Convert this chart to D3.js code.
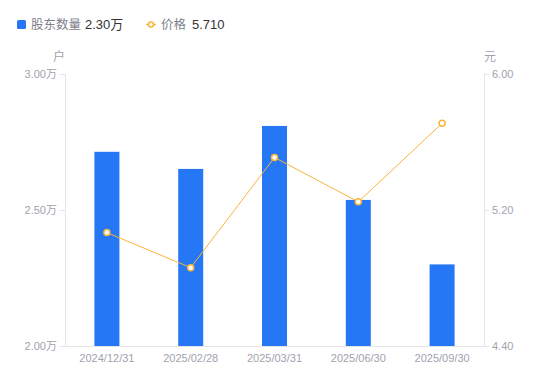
<!DOCTYPE html>
<html><head><meta charset="utf-8">
<script src="https://cdn.jsdelivr.net/npm/d3@7/dist/d3.min.js"></script>
<style>body{margin:0;background:#fff;font-family:"Noto Sans CJK SC","Noto Sans",sans-serif;}</style>
</head><body><svg id="c" width="550" height="381"></svg>
<script>
const categories = ["2024/12/31","2025/02/28","2025/03/31","2025/06/30","2025/09/30"];
const holders = [2.714, 2.651, 2.809, 2.537, 2.30];
const prices = [5.067, 4.861, 5.509, 5.248, 5.710];
const leftTicks = [2.00, 2.50, 3.00];
const rightTicks = [4.40, 5.20, 6.00];

const svg = d3.select("#c");
const L = 65, R = 484, T = 74, B = 346;
const x = d3.scaleBand().domain(categories).range([L, R]);
const yL = d3.scaleLinear().domain([2, 3]).range([B, T]);
const yR = d3.scaleLinear().domain([4.4, 6.0]).range([B, T]);
const axisColor = "#e3e4e8", textColor = "#a0a3ad";
const latin = '"Liberation Sans",Arial,"Noto Sans CJK SC",sans-serif';

// axes
const gL = svg.append("g").attr("transform", `translate(${L},0)`)
  .call(d3.axisLeft(yL).tickValues(leftTicks).tickSize(5).tickPadding(3).tickFormat(d => d3.format(".2f")(d) + "万"));
const gR = svg.append("g").attr("transform", `translate(${R},0)`)
  .call(d3.axisRight(yR).tickValues(rightTicks).tickSize(5).tickPadding(3).tickFormat(d3.format(".2f")));
const gB = svg.append("g").attr("transform", `translate(0,${B})`)
  .call(d3.axisBottom(x).tickSize(0).tickPadding(8));
[gL, gR, gB].forEach(g => {
  g.selectAll("path,line").attr("stroke", axisColor);
  g.selectAll("text").attr("fill", textColor).attr("font-size", 11).attr("font-family", latin);
});

// unit labels
svg.append("text").attr("x", 59).attr("y", 61).attr("text-anchor", "middle")
  .attr("font-size", 12).attr("fill", textColor).text("户");
svg.append("text").attr("x", 490).attr("y", 61).attr("text-anchor", "middle")
  .attr("font-size", 12).attr("fill", textColor).text("元");

// bars
const bw = 25;
svg.append("g").selectAll("rect").data(holders).join("rect")
  .attr("x", (d, i) => x(categories[i]) + x.bandwidth() / 2 - bw / 2)
  .attr("y", d => yL(d))
  .attr("width", bw)
  .attr("height", d => B - yL(d))
  .attr("fill", "#2677f5");

// line
const lineColor = "#f9b43a";
const line = d3.line().x((d, i) => x(categories[i]) + x.bandwidth() / 2).y(d => yR(d));
svg.append("path").datum(prices).attr("d", line).attr("fill", "none")
  .attr("stroke", lineColor).attr("stroke-width", 1);
svg.append("g").selectAll("circle").data(prices).join("circle")
  .attr("cx", (d, i) => x(categories[i]) + x.bandwidth() / 2)
  .attr("cy", d => yR(d)).attr("r", 3)
  .attr("fill", "#fff").attr("stroke", lineColor).attr("stroke-width", 1.5);

// legend
const lg = svg.append("g");
lg.append("rect").attr("x", 17).attr("y", 20).attr("width", 9).attr("height", 9).attr("rx", 1.5).attr("fill", "#2677f5");
lg.append("text").attr("x", 31).attr("y", 29).attr("font-size", 12.5).attr("fill", "#7d808a").text("股东数量");
lg.append("text").attr("x", 85).attr("y", 29).attr("font-size", 13).attr("font-family", latin).attr("fill", "#333").text("2.30万");
lg.append("line").attr("x1", 146).attr("x2", 156).attr("y1", 24.5).attr("y2", 24.5).attr("stroke", lineColor).attr("stroke-width", 1.5);
lg.append("circle").attr("cx", 151).attr("cy", 24.5).attr("r", 2.5).attr("fill", "#fff").attr("stroke", lineColor).attr("stroke-width", 1.5);
lg.append("text").attr("x", 161).attr("y", 29).attr("font-size", 12.5).attr("fill", "#7d808a").text("价格");
lg.append("text").attr("x", 192).attr("y", 29).attr("font-size", 13).attr("font-family", latin).attr("fill", "#333").text("5.710");
</script></body></html>
